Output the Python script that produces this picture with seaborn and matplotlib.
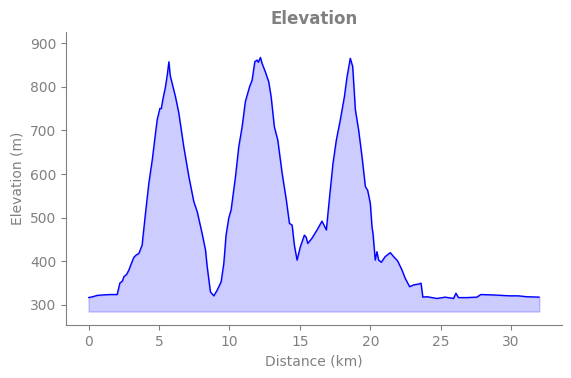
import matplotlib
matplotlib.use("Agg")
import matplotlib.pyplot as plt
import seaborn as sns
import pandas as pd

distance_km = [0.0, 0.3, 0.62, 1.0, 1.5, 2.03, 2.22, 2.4, 2.51, 2.7, 2.86, 3.0, 3.21, 3.4, 3.57, 3.8,
               4.04, 4.28, 4.52, 4.75, 4.87, 5.06, 5.16, 5.3, 5.46, 5.6, 5.7, 5.8, 5.93, 6.17, 6.41,
               6.76, 7.12, 7.47, 7.71, 8.06, 8.3, 8.42, 8.65, 8.89, 9.13, 9.41, 9.6, 9.76, 9.95,
               10.12, 10.43, 10.66, 10.9, 11.13, 11.44, 11.61, 11.8, 11.96, 12.05, 12.2, 12.32,
               12.55, 12.79, 12.96, 13.19, 13.43, 13.74, 14.04, 14.26, 14.45, 14.61, 14.8, 15.04,
               15.32, 15.45, 15.56, 15.86, 16.22, 16.57, 16.88, 17.11, 17.35, 17.59, 17.87, 18.16,
               18.35, 18.58, 18.75, 18.94, 19.17, 19.41, 19.65, 19.81, 20.0, 20.12, 20.19, 20.35,
               20.47, 20.59, 20.78, 21.06, 21.42, 21.65, 21.94, 22.25, 22.48, 22.79, 23.07, 23.43,
               23.6, 23.73, 24.02, 24.73, 25.32, 25.91, 26.08, 26.26, 26.86, 27.56, 27.85, 28.74,
               29.93, 30.5, 31.11, 32.0]
elevation_m = [317, 319, 322, 323, 324, 324, 350, 355, 365, 370, 380, 392, 409, 415, 418, 437,
               510, 579, 632, 693, 724, 750, 750, 775, 800, 830, 857, 825, 808, 777, 739,
               662, 594, 537, 514, 464, 426, 388, 330, 321, 334, 353, 395, 460, 499,
               518, 594, 662, 708, 766, 801, 815, 857, 861, 856, 867, 853,
               834, 811, 777, 708, 678, 602, 540, 487, 483, 437, 403, 434,
               460, 455, 441, 453, 472, 492, 472, 548, 624, 678, 724, 777,
               823, 865, 846, 747, 701, 640, 571, 563, 533, 479, 464, 403,
               422, 403, 398, 411, 420, 411, 401, 380, 361, 342, 346, 348,
               350, 318, 319, 315, 318, 315, 327, 317, 317, 318, 324, 323,
               321, 321, 319, 318]
fill_base = 285

df = pd.DataFrame({"Distance (km)": distance_km, "Elevation (m)": elevation_m})

sns.set_style("ticks")
gray = "#808080"
plt.rcParams.update({
    "text.color": gray, "axes.labelcolor": gray, "xtick.color": gray,
    "ytick.color": gray, "axes.edgecolor": gray,
})

fig, ax = plt.subplots(figsize=(5.71, 3.78), dpi=100)
fig.subplots_adjust(left=0.1156, right=0.984, top=0.915, bottom=0.14)

ax.fill_between(df["Distance (km)"], df["Elevation (m)"], fill_base, color="blue", alpha=0.2)
sns.lineplot(data=df, x="Distance (km)", y="Elevation (m)", color="blue", linewidth=1, ax=ax)

ax.set_ylim(254, 925)
ax.set_title("Elevation", fontsize=12, fontweight="bold", color=gray)
sns.despine(ax=ax)

fig.savefig("out.png", dpi=100)
